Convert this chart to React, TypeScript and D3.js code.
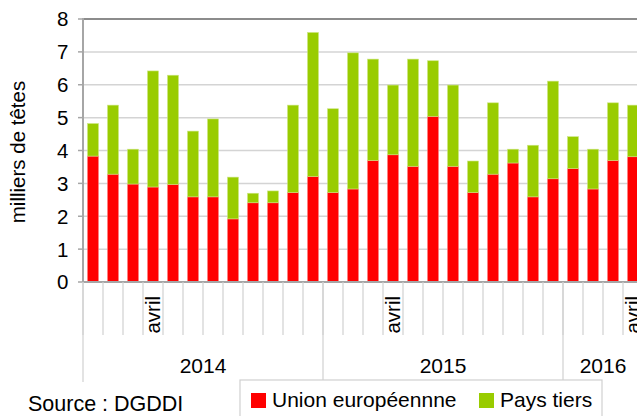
import React from "react";
import * as d3 from "d3";

const months = [
  "janv","févr","mars","avril","mai","juin","juil","août","sept","oct","nov","déc",
  "janv","févr","mars","avril","mai","juin","juil","août","sept","oct","nov","déc",
  "janv","févr","mars","avril",
];
const years = ["2014", "2015", "2016"];
const yearSizes = [12, 12, 4];
const shownMonthLabels = ["avril"];

const totals = [
  4.82, 5.38, 4.04, 6.42, 6.29, 4.59, 4.96, 3.19, 2.70, 2.77, 5.38, 7.59,
  5.27, 6.97, 6.78, 5.99, 6.78, 6.73, 5.99, 3.68, 5.45, 4.04, 4.16, 6.11,
  4.42, 4.04, 5.45, 5.38,
];
const unionEuropeenne = [
  3.83, 3.28, 2.98, 2.89, 2.97, 2.59, 2.59, 1.92, 2.41, 2.41, 2.72, 3.21,
  2.72, 2.83, 3.70, 3.87, 3.52, 5.04, 3.52, 2.72, 3.28, 3.62, 2.59, 3.14,
  3.45, 2.83, 3.70, 3.81,
];
const paysTiers = totals.map((t, i) => +(t - unionEuropeenne[i]).toFixed(2));
const yTicks = [0, 1, 2, 3, 4, 5, 6, 7, 8];

const seriesNames = ["Union européennne", "Pays tiers"];
const colors = ["#FF0000", "#99CC00"];

const FONT = "'Liberation Sans', Arial, sans-serif";

export default function App() {
  const W = 637, H = 416;
  const left = 83, right = 643, top = 19, bottom = 282;
  const idx = months.map((_, i) => i);
  const x = d3.scaleBand<number>().domain(idx).range([left, right]).paddingInner(0.45).paddingOuter(0.225);
  const y = d3.scaleLinear().domain([0, 8]).range([bottom, top]);
  const step = x.step();
  const catLeft = (i: number) => left + i * step;

  const rows = idx.map((i) => ({ i, ue: unionEuropeenne[i], pt: paysTiers[i] }));
  const stack = d3.stack<any>().keys(["ue", "pt"])(rows);

  let acc = 0;
  const yearGroups = years.map((yr, k) => {
    const start = acc;
    acc += yearSizes[k];
    return { yr, start, end: acc };
  });

  return (
    <svg width={W} height={H} style={{ position: "absolute", left: 0, top: 0, background: "#fff" }} fontFamily={FONT}>
      {/* gridlines */}
      {yTicks.filter((t) => t > 0 && t < 8).map((t) => (
        <line key={t} x1={left} x2={W} y1={y(t)} y2={y(t)} stroke="#d4d4d4" strokeWidth={1.5} />
      ))}
      <line x1={left} x2={W} y1={y(8)} y2={y(8)} stroke="#8c8c8c" strokeWidth={2} />
      {/* bars */}
      {stack.map((s, si) => (
        <g key={si} fill={colors[si]}>
          {s.map((d, j) => (
            <rect key={j} x={x(j)} width={x.bandwidth()} y={y(d[1])} height={y(d[0]) - y(d[1])}
              stroke={si === 0 ? "#ff8080" : "#cce680"} strokeWidth={0.6} />
          ))}
        </g>
      ))}
      {/* y axis */}
      <line x1={left} x2={left} y1={top - 1} y2={bottom} stroke="#a6a6a6" strokeWidth={2} />
      {yTicks.map((t) => (
        <g key={t}>
          <line x1={left - 5} x2={left} y1={y(t)} y2={y(t)} stroke="#a6a6a6" strokeWidth={1.5} />
          <text x={68.5} y={y(t)} dy="0.36em" textAnchor="end" fontSize={20.5} fill="#000">{t}</text>
        </g>
      ))}
      <text transform={`translate(25,152) rotate(-90)`} textAnchor="middle" fontSize={20.5} fill="#000">milliers de têtes</text>
      {/* x axis */}
      <line x1={left} x2={W} y1={bottom} y2={bottom} stroke="#a6a6a6" strokeWidth={2} />
      {idx.map((i) => (
        <line key={i} x1={catLeft(i)} x2={catLeft(i)} y1={bottom} y2={335} stroke="#d0d0d0" strokeWidth={1.2} />
      ))}
      {yearGroups.map((g) => (
        <line key={g.yr} x1={catLeft(g.start)} x2={catLeft(g.start)} y1={bottom} y2={382} stroke="#d0d0d0" strokeWidth={1.2} />
      ))}
      {idx.filter((i) => shownMonthLabels.includes(months[i])).map((i) => (
        <text key={i} transform={`translate(${(x(i) as number) + x.bandwidth() / 2 + 7},296) rotate(-90)`} textAnchor="end" fontSize={20.5} fill="#000">{months[i]}</text>
      ))}
      {yearGroups.map((g) => (
        <text key={g.yr} x={(catLeft(g.start) + catLeft(g.end)) / 2} y={373} textAnchor="middle" fontSize={21} fill="#000">{g.yr}</text>
      ))}
      {/* legend */}
      <rect x={240} y={380} width={362} height={50} fill="#fff" stroke="#d0d0d0" strokeWidth={1.2} />
      {seriesNames.map((n, k) => {
        const lx = k === 0 ? 251 : 479;
        return (
          <g key={n}>
            <rect x={lx} y={393} width={15} height={15} fill={colors[k]} />
            <text x={lx + 21} y={407} fontSize={21} fill="#000">{n}</text>
          </g>
        );
      })}
      <text x={28} y={411} fontSize={21.5} fill="#000">Source : DGDDI</text>
    </svg>
  );
}
